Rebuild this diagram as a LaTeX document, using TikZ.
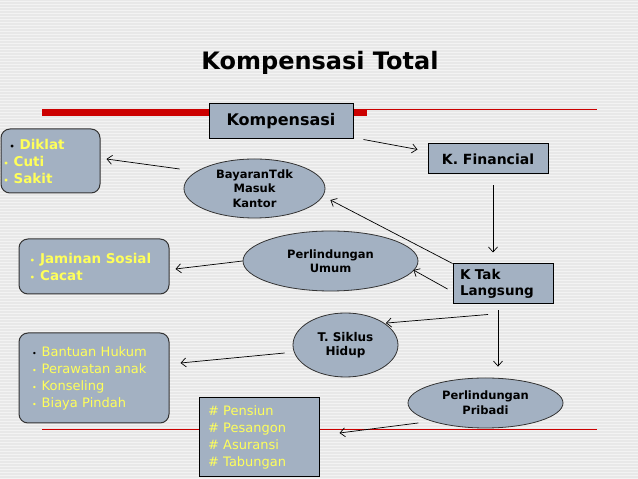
\documentclass[tikz,border=0pt]{standalone}
\usepackage{fontspec}
\setmainfont{DejaVu Sans}
\usetikzlibrary{shapes.geometric,arrows.meta}

\definecolor{backgray}{RGB}{232,232,232}
\definecolor{stripegray}{RGB}{243,243,243}
\definecolor{boxblue}{RGB}{163,177,194}
\definecolor{textyellow}{RGB}{255,255,90}
\definecolor{barred}{RGB}{204,0,0}

\tikzset{
    plainbox/.style={draw=black, line width=1pt, fill=boxblue, rectangle, inner sep=0pt},
    roundbox/.style={draw=black!80, line width=1pt, fill=boxblue, rectangle, rounded corners=9pt, inner sep=0pt},
    oval/.style={draw=black!80, line width=0.8pt, fill=boxblue, ellipse, inner sep=0pt, align=center},
    arr/.style={-{Straight Barb[length=5pt,width=9pt]}, line width=0.7pt},
    fsize/.style 2 args={font={\fontsize{#1}{#2}\selectfont}},
    bsize/.style 2 args={font={\fontsize{#1}{#2}\selectfont\bfseries}}
}

\newcommand{\bul}{{\fontsize{8}{8}\selectfont •}\hspace{5pt}}

\begin{document}
\begin{tikzpicture}[x=1pt, y=1pt]
    % Background
    \useasboundingbox (0,0) rectangle (638,479);
    \fill [backgray] (0,0) rectangle (638,479);
    \foreach \y in {1,4,...,478}
        \draw [stripegray, line width=0.8pt] (0,\y) -- (638,\y);

    % Red bars
    \fill [barred] (42,363) rectangle (367,370);
    \draw [barred, line width=1.2pt] (367,369.5) -- (597,369.5);
    \draw [barred, line width=1pt] (42,49) -- (597,49);

    % Title
    \node [bsize={24}{28}] (title) at (320,416) {Kompensasi Total};

    % Boxes
    \node [plainbox, minimum width=144pt, minimum height=35pt, bsize={16}{18}] (komp) at (281,357.5)
        {Kompensasi};
    \node [plainbox, minimum width=120pt, minimum height=30pt, bsize={14}{16}] (kfin) at (488,320)
        {K. Financial};
    \node [plainbox, minimum width=100pt, minimum height=40pt, text width=86pt, align=left,
        bsize={13.5}{16.5}] (ktak) at (503,195)
        {K Tak\\Langsung};

    \node [roundbox, minimum width=99pt, minimum height=64pt, text width=94pt, align=left,
        text=textyellow, bsize={13.5}{17}] (diklat) at (50.5,318)
        {\hspace{6pt}{\color{black}\bul}Diklat\\\bul Cuti\\\bul Sakit};
    \node [roundbox, minimum width=150pt, minimum height=55pt, text width=128pt, align=left,
        text=textyellow, bsize={13.5}{17}] (jaminan) at (94,212.5)
        {\bul Jaminan Sosial\\\bul Cacat};
    \node [roundbox, minimum width=150pt, minimum height=90pt, text width=124pt, align=left,
        text=textyellow, fsize={13}{17}] (bantuan) at (94,101)
        {{\color{black}\bul}Bantuan Hukum\\\bul Perawatan anak\\\bul Konseling\\\bul Biaya Pindah};
    \node [plainbox, minimum width=120pt, minimum height=79pt, text width=102pt, align=left,
        text=textyellow, fsize={13}{17}] (pensiun) at (259,41.5)
        {\# Pensiun\\\# Pesangon\\\# Asuransi\\\# Tabungan};

    % Ovals
    \node [oval, minimum width=141pt, minimum height=59pt, bsize={11.5}{14.5}] (bayar) at (254.5,290.5)
        {BayaranTdk\\Masuk\\Kantor};
    \node [oval, minimum width=175pt, minimum height=60pt, bsize={11.5}{14}] (umum) at (330.5,218)
        {Perlindungan\\Umum};
    \node [oval, minimum width=105pt, minimum height=64pt, bsize={12}{14.5}] (siklus) at (345.5,134)
        {T. Siklus\\Hidup};
    \node [oval, minimum width=155pt, minimum height=50pt, bsize={11.5}{15}] (pribadi) at (485.5,76)
        {Perlindungan\\Pribadi};

    % Connectors
    \draw [arr] ([xshift=10pt]komp.south east) -- ([xshift=-10pt, yshift=-6pt]kfin.north west);
    \draw [arr] ([xshift=5pt, yshift=-11pt]kfin.south) -- ([xshift=-10pt, yshift=11pt]ktak.north);
    \draw [arr] (ktak.north west) -- ([xshift=5pt, yshift=-11.5pt]bayar.east);
    \draw [arr] ([xshift=-5pt, yshift=-5pt]ktak.west) -- ([xshift=-5pt, yshift=-9pt]umum.east);
    \draw [arr] ([xshift=-15pt, yshift=-10pt]ktak.south) -- ([xshift=3pt, yshift=-1pt]siklus.north east);
    \draw [arr] ([xshift=-5pt, yshift=-6pt]ktak.south) -- ([xshift=12.5pt, yshift=11pt]pribadi.north);
    \draw [arr] ([xshift=-12pt, yshift=-2pt]pribadi.south west) -- ([xshift=20pt, yshift=4.5pt]pensiun.east);
    \draw [arr] ([xshift=-8pt, yshift=-8pt]siklus.west) -- ([xshift=11pt, yshift=15pt]bantuan.east);
    \draw [arr] (umum.west) -- ([xshift=6pt, yshift=-2.5pt]jaminan.east);
    \draw [arr] ([xshift=-4pt, yshift=19.5pt]bayar.west) -- ([xshift=6pt, yshift=2pt]diklat.east);

\end{tikzpicture}
\end{document}
